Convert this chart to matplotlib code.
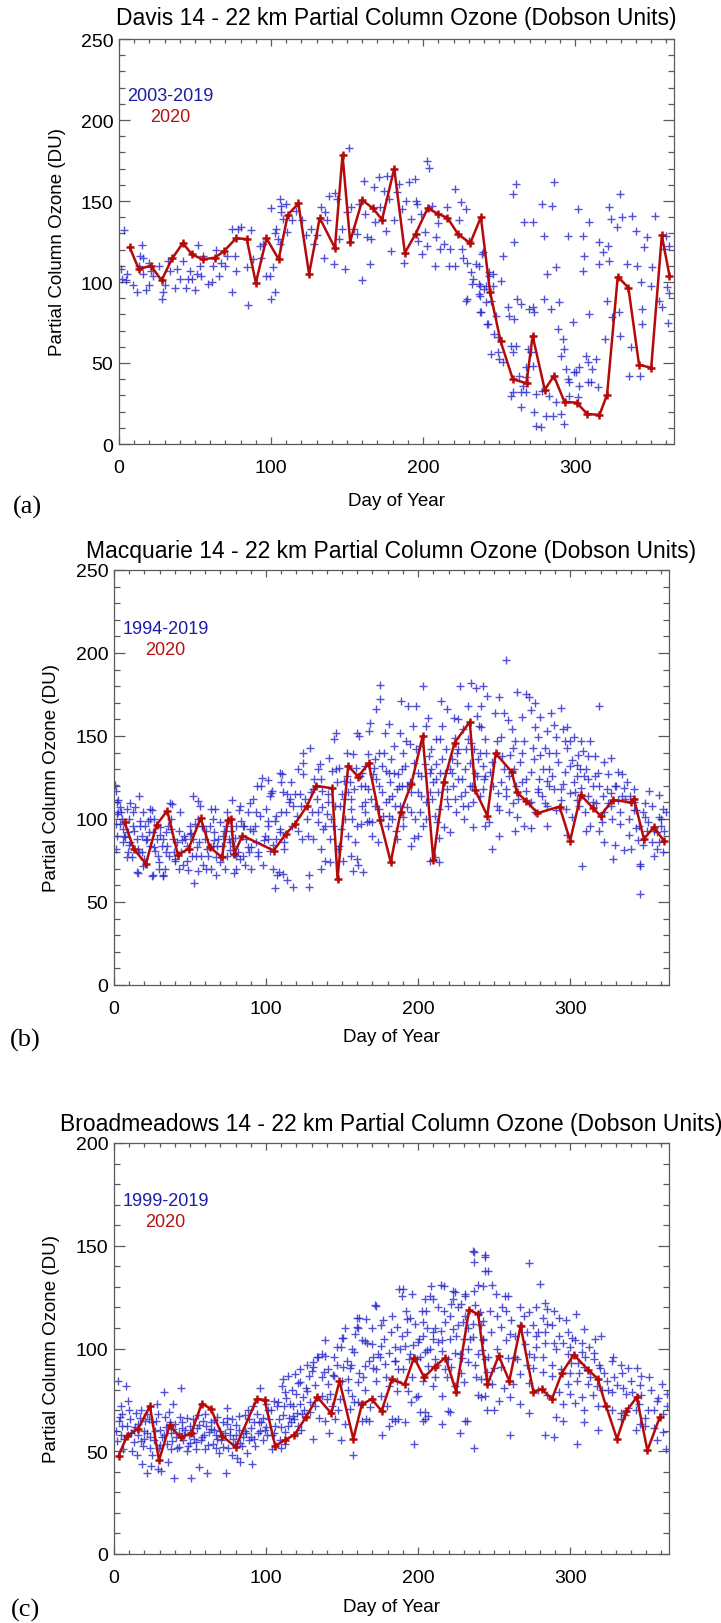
"""
14 - 22 km partial column ozone at Davis, Macquarie and Broadmeadows.
Historical ozonesonde values (blue crosses) against the 2020 season (red).
"""
import matplotlib
matplotlib.use("Agg")
import matplotlib.pyplot as plt
from matplotlib.ticker import MultipleLocator

# ---------------------------------------------------------------------------
# Data
# ---------------------------------------------------------------------------
davis_2020_day = [7, 13, 21, 28, 35, 42, 48, 55, 63, 69, 77, 84, 90, 97, 105, 111, 118, 125,
                  132, 142, 147, 152, 160, 167, 173, 181, 188, 195, 203, 210, 216, 223, 231,
                  238, 244, 251, 259, 268, 272, 280, 286, 293, 301, 308, 316, 321, 328, 335,
                  342, 350, 357, 362]
davis_2020_du = [121.5, 108, 110, 101, 114.6, 124, 117, 114, 115, 119, 127, 126.5, 99.5, 127,
                 114, 141.4, 148.5, 105, 139.5, 121, 178.5, 125, 150.5, 145.5, 138.5, 170, 118,
                 129.6, 145.5, 142, 139.6, 129.5, 124, 140, 94, 63.3, 40, 37.5, 66.8, 33.5, 42,
                 26, 25.5, 18.5, 18, 30.5, 103.3, 96.5, 49, 47, 128.8, 104]

davis_hist = [
    (1, 108), (3, 132), (2, 102), (5, 105), (4.6, 101), (9, 98), (12, 94), (15, 123), (14, 116),
    (16, 115), (13, 110), (15.5, 105), (18, 95), (20, 98), (20, 112), (22.5, 104), (21, 107),
    (26.5, 110), (28, 89.5), (29, 93.6), (30, 98), (32, 113), (33.5, 107), (37, 96), (38, 108),
    (40, 102), (42, 113), (44, 96), (45.5, 102), (46.6, 107), (47.7, 102), (50, 95), (51, 105),
    (53, 110), (52, 123), (54, 104), (55, 116), (58.6, 99), (61, 100), (62, 110), (64, 120),
    (66, 104), (67, 112), (69.6, 110), (70.7, 116), (74, 133), (74, 94), (76, 116), (77, 107),
    (78, 133), (80.5, 134), (84, 109), (85, 86), (87, 132), (88, 114), (92.6, 122), (93.6, 115),
    (94.7, 123.5), (97, 104), (99, 104), (100, 89.5), (102.4, 93.6), (101.3, 109), (102.4, 130),
    (103.5, 133), (104.6, 126.5), (105.7, 151), (106.8, 147), (106.8, 143), (100.2, 145.5),
    (106, 123.5), (108, 139),
    (109.6, 148), (110.7, 131), (113.5, 138.5), (116.2, 144), (120.6, 138), (122.8, 129),
    (126, 132.7), (128, 123.5), (130.2, 129), (132.6, 146), (134.8, 115), (135.5, 143), (137, 138),
    (138, 153), (141.4, 111), (141.9, 155), (143.5, 151), (144.6, 126.5), (146.8, 132.7),
    (148.6, 108), (150, 143), (151, 183), (152.3, 146), (154.5, 132.7), (156.7, 129.6), (158, 148),
    (159.5, 101.4), (161, 162.5), (162, 142), (163.3, 127.6), (165.4, 111), (166, 126.5),
    (167.6, 158.4), (168.6, 136.8), (170.7, 164.6), (171.9, 146), (174, 156.4), (175.3, 131.7),
    (176.4, 165.6), (177.5, 151.2), (179.2, 119.3), (180.8, 138), (183, 155.3), (184, 160.5),
    (185.8, 145), (187.3, 112), (188.9, 150.2), (191, 161.5), (191.8, 139), (194.5, 163.5),
    (195, 150.2), (196, 148), (196.7, 125.5), (198.3, 142), (199.4, 117.3), (201, 130.7),
    (202.6, 175), (203.7, 170.2), (202.6, 122.4), (206, 147), (207.7, 110), (208.6, 127.6),
    (210, 136.4), (211.4, 120.4), (213.6, 123.5), (215.9, 146), (217, 110), (218, 120.4),
    (220.9, 157.4), (221.3, 110), (223.5, 138), (224.6, 149.2), (225.3, 120.4), (226, 114.6),
    (227.9, 145), (229, 112), (230, 125.5), (231.8, 106), (232.2, 98.8), (232.9, 102),
    (234.5, 111), (229, 89.5), (227.9, 88.5), (236.5, 110), (237.7, 97.7), (237.2, 91.6),
    (237.7, 81.3), (238.8, 117.3), (239.9, 95.7), (242, 74), (243.2, 104), (244.9, 55.6),
    (237, 92.6), (238.1, 81.3), (239.2, 118.3), (241.4, 97.7), (243.6, 106), (245.7, 105),
    (242.4, 74), (246.8, 67.9), (249, 56.6), (250, 52.5), (251.2, 100.8), (252.3, 116.3),
    (252.3, 50.4), (255.6, 84.4), (256.7, 79.2), (257.8, 60.7), (258.9, 56.6), (260, 77.2),
    (259.5, 124.5), (261, 160.5), (259.4, 154.3), (262, 89.5), (264.4, 86.4), (265.4, 36),
    (264.4, 22.6), (266.5, 136.8), (267.6, 41.2), (268.7, 58.6), (269.8, 83.3), (272, 84.4),
    (272, 136.8), (273, 81.3), (272, 48.4), (273, 19.5), (274.2, 11.3), (277.5, 10.3),
    (278.5, 148), (279.6, 128.6), (279.6, 89.5), (280.7, 17.5), (281.8, 105), (284, 83.3),
    (284.7, 146.7), (285.2, 17.5), (286.3, 161.5), (287.4, 109), (288.5, 71), (289.6, 87.4),
    (290.6, 54.5), (291.7, 64.8), (292.8, 58.6), (292.8, 12.3), (293.9, 46.3), (295, 40.1),
    (295, 128.6), (296.1, 29.8), (298.3, 75.1), (299.4, 44.2), (301.6, 145), (302.7, 36),
    (305, 128.6), (306, 116.3), (305, 107), (307.2, 54.5), (308.3, 50.4), (309, 136.8),
    (309.4, 80.2), (310.5, 38), (311.4, 46.3), (313.7, 52.5), (314.8, 35), (315.9, 124.5),
    (315.9, 111), (318, 118.3), (319.3, 64.8), (321.5, 122.4), (320.8, 88.5), (322.3, 146),
    (322.3, 113.2), (323.4, 138.9), (324.5, 78.2), (327.8, 133.7), (329, 81.3), (329.4, 66.9),
    (329.6, 154.3), (330.9, 139.9), (334.2, 111), (335.3, 42.2), (336.4, 59.7), (337.5, 141),
    (339.7, 131.7), (340.8, 110), (342.4, 42.2), (343, 99.8), (343.8, 83.3), (344.2, 74),
    (345.3, 121.4), (347.5, 127.6), (349.8, 97.7), (350.4, 109), (352.4, 141), (355.2, 88.5),
    (357.4, 84.4), (358.5, 120.4), (359.6, 128.6), (360.7, 96.7),
    (287.4, 25.7), (290.6, 18.5), (296.1, 38), (300.5, 44.2), (302.2, 47.3), (308.3, 38),
    (301.6, 28.8), (283, 29.8), (278.5, 32.9), (274.2, 30.9), (267.6, 31.9), (264.4, 31.9),
    (258.9, 31.9), (257.8, 29.8), (263.3, 42.2), (267.6, 47.3), (271, 56.6), (261, 60.7),
    (249, 65.8), (247.9, 79.2), (244.6, 88.5), (246.1, 97.7), (241.4, 87.4), (237, 98.8),
    (362, 122), (362, 93), (361, 75),
]

macq_2020_day = [7, 13, 21, 28, 35, 42, 49, 57, 63, 71, 75, 77, 79, 84.5, 105, 113, 119, 127,
                 133, 143.5, 147, 154, 160.5, 167.5, 175, 182, 188.5, 195.5, 203, 210, 217, 224,
                 234, 237.5, 245.5, 251, 261.5, 265, 271, 278.5, 293, 300, 307, 315, 320, 328,
                 340, 342, 348.5, 355, 362]
macq_2020_du = [98, 82, 73, 96.5, 105, 78.5, 82, 100.5, 83, 77, 99.5, 100, 79, 90, 81, 91, 97,
                108, 120, 118.5, 64, 132, 125.5, 133.5, 99.5, 74, 104, 121, 150, 75.5, 122.5,
                146, 158.5, 117.5, 102, 139.5, 128.5, 116, 111, 103.5, 107.5, 87, 114.5, 106.5,
                102, 111.5, 110, 112, 88, 95, 86.5]

macq_hist = [
    (0.7, 120.5), (1.3, 117), (1.8, 110), (2.2, 103), (1.3, 97), (1.8, 90), (1.3, 82), (3.9, 107),
    (5, 100), (6.1, 94), (8.3, 106), (7.2, 89), (9.4, 92), (10.5, 86), (11.6, 77), (10, 100),
    (12.7, 96), (14, 107), (16.2, 114), (15.3, 68), (17, 99), (18.2, 90), (18.2, 80), (19.3, 104),
    (20.4, 96), (21.4, 88), (22.5, 99), (23.6, 84), (24, 106), (25.4, 92), (25.8, 66), (26.9, 81),
    (28, 88), (29.1, 78), (30.2, 95), (31.3, 84), (32, 66), (33.5, 70), (34.1, 92), (35, 84),
    (36.3, 78), (37.2, 100), (37.9, 109), (39, 88), (40, 75), (41.6, 86), (42.9, 93), (43.8, 80),
    (45.5, 72), (46.6, 88), (47.7, 84), (48.8, 69), (49.9, 91), (51, 78), (52, 88), (53.2, 97),
    (55.4, 100), (55.4, 111), (56.5, 108), (55.9, 86), (57.5, 78), (58.6, 72), (59.7, 88),
    (60.4, 93), (61.3, 82), (63, 96), (64.1, 70), (64.8, 84), (65.6, 92), (66.3, 106), (67.4, 77),
    (68.5, 88), (69.6, 98), (70.7, 84), (71.8, 90), (72.9, 70), (74, 104), (74.4, 78), (75.7, 88),
    (77.2, 93), (78.8, 84), (80.1, 70), (80.5, 96), (81.6, 80), (82.7, 108), (83.8, 99),
    (84.9, 78), (86, 72), (87.1, 88), (88.2, 104), (89.3, 94), (90.4, 83), (91.5, 112),
    (92.6, 96), (93.7, 86), (94.7, 80), (95.8, 102), (96.9, 120), (97.6, 125), (99.1, 90),
    (100.2, 106), (101.3, 96), (102.4, 81), (102.8, 114), (104.2, 117), (104.6, 70), (105.7, 99),
    (106.8, 88), (109, 128), (108.5, 68), (110, 104), (111.2, 67), (111.6, 82),
    (52.9, 61.3), (24.9, 65.5), (32.4, 65.5), (15.9, 67.2), (118, 59.2), (106, 58.2),
    (107.5, 66.5), (113.5, 63.4), (128, 59.2), (128.5, 66.5),
    (2.4, 111.5), (4.5, 104.2), (6.3, 89.5), (9.9, 84.3), (12.9, 92.7), (15.9, 82.2),
    (17.4, 95.8), (21.3, 87.4), (23.4, 100), (26.4, 83.3), (30.3, 90.6), (33.9, 80.1),
    (37.5, 93.7), (39.9, 75.9), (44.4, 87.4), (48.3, 74.9), (50.5, 91.6), (54.4, 83.3),
    (58, 95.8), (61.6, 78), (65.5, 87.4), (69.4, 73.8), (72.4, 92.7), (76, 81.2), (79.6, 88.5),
    (82.6, 75.9), (85, 95.8), (88, 83.3), (91.6, 92.7), (94.6, 78), (98.5, 87.4), (101.5, 99),
    (104.5, 84.3), (109, 93.7), (112, 86.4), (8.4, 77), (18.9, 71.8), (29.4, 73.8), (42.9, 69.7),
    (55, 68.6), (67, 66.5), (79, 67.6), (90.4, 69.7), (3.9, 96.9), (10.8, 109.4), (24.9, 105.2),
    (36.9, 109.4), (52, 113.6), (64, 106.3), (77.5, 111.5), (89.5, 109.4), (103, 115.7),
    (115, 110.5), (109.6, 122), (101.5, 123.6), (94, 119.9), (82, 105.2),
    (2.8, 104), (5.7, 86), (9, 80), (12.3, 104), (14.9, 88), (16.6, 80), (19.7, 76), (23.2, 92),
    (26.3, 100), (29.8, 70), (32.4, 88), (35.7, 96), (39.4, 80), (43.3, 104), (46, 90),
    (50.3, 96), (53.8, 78), (58.2, 96), (60.8, 70), (64.8, 100), (67.8, 84), (73.5, 96),
    (76.6, 86), (80.5, 78), (85.3, 96), (88.8, 80), (93.2, 104), (98, 72), (101.5, 88),
    (106.3, 102), (109.4, 92),
    (110.3, 127), (111.4, 116), (113.6, 115), (115.8, 112), (117, 96), (118, 108), (119.1, 115),
    (120.1, 102), (121.2, 93), (122.3, 115), (123.4, 88), (124.5, 140), (124.5, 134),
    (124.5, 127), (125.6, 112), (126.7, 100), (127.8, 90), (128.9, 143), (130, 104), (131, 88),
    (131.7, 124), (133.2, 112), (134.4, 98), (135.4, 133), (136.1, 82), (136.6, 107),
    (137.6, 94), (138.7, 75), (139.8, 103), (140.9, 115), (142, 88), (143.1, 129), (144.2, 96),
    (144.9, 148), (145.7, 152), (146.4, 122), (147.5, 82), (148.6, 108), (149.7, 115),
    (150.8, 75), (151.9, 100), (153, 140), (154, 90), (155.1, 122), (156.2, 100), (157.3, 139),
    (158.4, 86), (159.5, 152), (160.2, 72), (161, 150), (161.7, 126), (162.8, 108), (163.9, 68),
    (165, 120), (166.1, 98), (166.8, 139), (167.6, 153), (168.3, 158), (168.9, 112), (169.4, 90),
    (170.4, 127), (171.6, 108), (172.6, 166), (173.7, 86), (174.4, 140), (175, 172), (175.1, 180.5),
    (176, 116), (177, 102), (178.1, 152), (179.2, 129), (180.3, 96), (180.7, 157), (181.4, 122),
    (182, 136), (183, 114), (184.2, 144), (184.7, 108), (185.8, 88), (186.9, 127), (188, 152),
    (188.6, 171), (189.5, 120), (190.2, 96), (191.3, 132), (192.4, 107), (193.4, 168),
    (194.5, 145), (195.2, 116), (195.6, 84), (196.7, 156), (197.8, 100), (198.9, 168),
    (199.6, 128), (200, 90), (201.1, 144), (202.2, 114), (203.3, 180), (203.3, 96), (204.4, 133),
    (205.4, 110), (206.5, 161), (207.6, 128), (208.7, 142), (209.8, 122), (210.9, 102),
    (211.4, 77), (212, 133), (213.1, 116), (214.2, 148), (215.3, 171), (216, 156), (216.9, 95),
    (217.5, 128), (218.6, 142), (219.3, 166), (219.7, 108), (220.9, 92), (222, 136), (223, 120),
    (223.7, 161), (224.2, 149), (225.2, 104), (225.9, 134), (226.3, 124), (227.4, 180),
    (228.4, 114), (229.5, 154), (230.2, 100), (231, 130), (231.7, 142), (232.8, 108),
    (233.9, 120), (234.6, 182), (235, 146), (236.1, 95), (237.2, 128), (238.3, 179),
    (239.4, 136), (239.9, 156), (240.5, 114), (241.6, 168), (242.7, 180), (243.4, 124),
    (244.3, 96), (244.9, 140),
    (112.9, 104), (116.4, 122), (120.8, 130), (123, 108), (129.6, 116), (133.9, 130), (137, 117),
    (141.4, 137), (145.3, 108), (148, 131), (151.4, 123), (155.9, 112), (159, 131), (162.6, 120),
    (165.4, 104), (170.8, 131), (174.3, 120), (177.3, 140), (180.9, 112), (184.4, 128),
    (187.4, 120), (191.8, 147), (194.9, 122), (198.5, 142), (201.4, 104), (204.9, 156),
    (208, 116), (211.5, 148), (214.6, 128), (219, 112), (222.5, 128), (225.8, 140), (229.4, 108),
    (232.5, 148), (235.6, 120), (239, 162), (242.6, 132), (244.3, 148), (164.9, 132), (154, 116),
    (171.6, 136), (189.5, 130), (208.3, 130), (226.3, 160), (232.8, 168), (236.8, 142),
    (131, 118), (134, 104), (136, 124), (139, 96), (141, 110), (143, 100), (146, 130), (149, 94),
    (151, 112), (153, 126), (156, 106), (158, 118), (160, 96), (163, 128), (165, 110), (167, 118),
    (170, 98), (172, 124), (174, 106), (176, 132), (179, 110), (181, 128), (183, 100), (186, 118),
    (188, 108), (190, 140), (193, 120), (195, 104), (197, 134), (200, 116), (202, 126), (205, 100),
    (207, 138), (209, 112), (212, 124), (214, 106), (216, 136), (219, 118), (221, 130), (224, 112),
    (226, 142), (229, 124), (231, 116), (234, 134), (236, 110), (239, 126), (241, 140), (243, 118),
    (148, 84), (157, 68.6), (160, 76), (142, 73.8), (136, 69.7), (155.6, 78), (162.5, 96.9),
    (167.6, 99), (181, 102), (190, 101), (185.6, 92.7), (197.6, 88.5), (212.6, 97.9),
    (214, 88.5), (214, 73.8), (207.5, 74.9),
    (245.6, 174.3), (250.8, 163.8), (253.2, 173.2), (257.7, 195.6), (254.7, 149.2),
    (256.2, 163.8), (259.2, 159.6), (261.6, 154.4), (263.7, 147), (265.2, 176.4), (268.2, 161.7),
    (271.2, 175.3), (272.7, 173.2), (274.2, 165.9), (276.6, 170.1), (278.7, 149.2),
    (280.2, 138.7), (283.2, 142.9), (286.2, 130.3), (289.2, 156.5), (290.7, 149.2),
    (293.7, 166.9), (295.2, 154.4), (298.2, 155.4), (299.7, 147), (301.2, 135.6), (304.2, 132.4),
    (307.2, 147), (308.7, 140.8), (311.7, 137.7), (313.2, 147), (316.2, 126.2), (319.2, 168),
    (322.2, 134.5), (325.2, 127.2), (326.7, 136.6), (329.7, 119.9), (331.2, 128.2),
    (334.2, 127.2), (335.7, 118.8), (337.2, 122), (339.6, 113.6), (341.7, 110.5), (343.2, 105.2),
    (344.7, 87.4), (346.2, 72.8), (346.2, 55), (349.2, 101), (351.6, 116.7), (353.7, 86.4),
    (355.3, 92.7), (356.8, 82.2), (358.3, 114.6), (359.8, 100), (361.3, 106.3), (361.9, 92.7),
    (328.2, 75.9), (335.7, 81.2), (307.8, 71.8), (319.2, 92.7), (313.2, 95.8), (327.3, 100),
    (322.2, 104.2), (317.1, 109.4), (309.9, 104.2), (304.2, 111.5), (299.7, 115.7),
    (293.7, 111.5), (289.2, 117.8), (284.7, 123), (281.7, 113.6), (277.2, 104.2), (272.7, 109.4),
    (269.7, 95.8), (265.2, 101), (262.2, 109.4), (257.7, 113.6), (256.2, 130.3), (253.2, 89.5),
    (248.6, 82.2), (246.5, 97.9), (252.6, 115.7), (244.1, 126.2), (241.1, 155.4), (248.6, 134.5),
    (259.8, 126.2), (266.7, 134.5), (274.2, 128.2), (279.6, 124.1), (283.2, 109.4),
    (290.7, 105.2), (296.7, 128.2), (302.7, 122), (307.2, 118.8), (310.2, 130.3), (314.7, 119.9),
    (321.6, 113.6), (325.2, 109.4), (331.2, 111.5), (332.7, 96.9), (338.7, 90.6), (343.2, 94.8),
    (347.7, 84.3), (350.8, 92.7), (358.3, 86.4), (355.3, 78), (361.3, 80.1), (251.7, 147),
    (262.2, 142.9), (268.2, 122), (275.7, 142.9), (286.2, 139.8), (292.2, 134.5), (298.2, 142.9),
    (302.7, 149.2), (306.6, 130.3), (280.2, 161.7), (284.7, 153.3),
    (247.1, 128.2), (254.7, 122), (264.6, 119.9), (271.2, 116.7), (278.7, 117.8), (286.2, 119.9),
    (295.2, 120.9), (304.2, 126.2), (311.7, 124.1), (319.2, 119.9), (326.7, 115.7),
    (334.2, 113.6), (341.7, 105.2), (349.2, 109.4), (358.3, 101), (260.7, 138.7), (269.7, 147),
    (277.2, 155.4), (287.4, 163.8), (296.7, 147), (305.4, 138.7), (316.2, 137.7), (253.2, 105.2),
    (263.7, 92.7), (274.2, 94.8), (284.7, 95.8), (301.2, 101), (310.2, 92.7), (322.2, 86.4),
    (329.7, 84.3), (340.2, 82.2), (346.2, 71.8), (298.2, 90.6),
    (249, 120), (252, 108), (255, 138), (258, 118), (260, 104), (263, 130), (266, 112), (268, 140),
    (271, 124), (274, 110), (276, 136), (279, 116), (282, 130), (285, 108), (288, 126), (291, 140),
    (294, 118), (297, 106), (300, 132), (303, 116), (306, 108), (309, 126), (312, 114), (315, 110),
    (318, 128), (321, 98), (324, 118), (327, 108), (330, 120), (333, 104), (336, 112), (339, 100),
    (342, 118), (345, 96), (348, 104), (351, 98), (354, 108), (357, 92), (360, 96), (363, 104),
]

broad_2020_day = [3, 8.5, 16, 23.6, 29.6, 36.6, 43.8, 50.8, 57.7, 63.7, 71.3, 80, 94, 99, 106,
                  112.7, 118.7, 126.3, 133.8, 142.9, 148.3, 157.4, 163, 169.5, 176, 182.8, 191.2,
                  197.3, 204, 211, 218, 225, 233.5, 239.5, 245.6, 253, 260, 267.4, 275.8, 281.3,
                  288, 294.6, 302.4, 312, 318, 323.6, 330.8, 337, 343.8, 350.8, 359]
broad_2020_du = [47.7, 57.4, 61, 72, 45.6, 62.6, 56.7, 58.8, 73.2, 70.7, 57.4, 52, 75.4, 75,
                 52.6, 55.6, 58, 66.7, 76.3, 68.4, 84.2, 56, 72.8, 75.4, 69.6, 85, 82.5, 95.6, 86,
                 91.2, 95.6, 79, 118.8, 116.7, 82.5, 96.5, 84.2, 111, 79, 80.2, 75.4, 88.2, 97,
                 89.5, 85.4, 72, 56, 69.6, 76.3, 50.4, 66.7]

broad_hist = [
    (2.4, 84.2), (3.9, 66.7), (4.5, 71.9), (5.4, 62.3), (6.9, 56.1), (7.6, 81.6), (9.4, 74.6),
    (10.6, 65.8), (11.5, 58.8), (13, 54.4), (14.5, 68.4), (15.4, 48.2), (16, 63.2), (17.5, 70.2),
    (18.4, 43.9), (19.6, 56.1), (20.5, 64.9), (22, 39.5), (23.6, 51.8), (24.5, 43), (25.1, 64),
    (26.6, 55.3), (28.1, 72.8), (28.7, 41.2), (30.5, 60.5), (31.1, 40.4), (32.6, 78.9),
    (33.5, 66.7), (34.7, 53.5), (35.6, 44.7), (37.2, 58.8), (38.7, 72.8), (39.6, 36.8),
    (40.2, 63.2), (41.7, 51.8), (43.2, 66.7), (44.1, 80.7), (45.6, 55.3), (46.8, 60.5),
    (47.7, 50), (49.2, 57.9), (50.8, 36.8), (51.7, 65.8), (52.9, 56.1), (54.7, 61.4),
    (55.9, 42.1), (57.1, 55.3), (58.3, 64.9), (59.8, 50.9), (61.3, 39.5), (62.2, 59.6),
    (63.7, 64), (65, 53.5), (66.8, 57.9), (68, 66.7), (69.2, 49.1), (70.4, 55.3), (71.9, 64),
    (73.4, 39.5), (74, 71.1), (75.2, 51.8), (76.4, 57.9), (77.9, 65.8), (79.5, 53.5), (81, 46.5),
    (81.9, 60.5), (83.1, 44.7), (84.9, 57), (86.1, 67.5), (87.3, 49.1), (88.5, 55.3), (90, 61.4),
    (90.9, 43.9), (91.5, 71.9), (93, 52.6), (94.6, 58.8), (96.1, 80.7), (97, 64), (98.2, 55.3),
    (100, 72.8), (100.6, 57.9), (102.1, 65.8), (103.6, 50.9), (105.1, 74.6), (106, 62.3),
    (107.3, 71.9), (109, 55.3), (110.3, 81.6), (111.2, 67.5), (112.7, 59.6), (114.2, 86.8),
    (115.7, 72.8), (117.2, 79.8), (118.7, 65.8), (121.1, 83.3), (122.4, 72.8), (123.3, 60.5),
    (3.3, 64.9), (4.5, 57.9), (8.5, 62.3), (13, 60.5), (16, 57.9), (19, 52.6), (21.5, 58.8),
    (22.7, 65.8), (27.5, 64.9), (29.6, 51.8), (31.7, 57), (36.6, 64), (37.8, 50.9), (42.6, 58.8),
    (44.7, 61.4), (48.6, 52.6), (49.8, 62.3), (53.8, 54.4), (55.3, 67.5), (59.5, 57.9),
    (60.7, 62.3), (65.9, 60.5), (67.4, 51.8), (72.8, 58.8), (74.6, 63.2), (77.3, 48.2),
    (80.1, 57.9), (84, 52.6), (87, 58.8), (89.1, 65.8), (92.1, 56.1), (95.2, 64), (99.1, 60.5),
    (101.2, 70.2), (104.2, 57.9), (108.2, 65.8), (112.1, 71.9), (116.3, 64), (120.2, 68.4),
    (1, 60), (2, 55), (5, 68), (6, 51), (9, 58), (10, 70), (12, 50), (14, 62), (17, 66), (18, 55),
    (20, 60), (22, 68), (24, 57), (25, 48), (27, 60), (29, 68), (30, 53), (33, 58), (34, 62),
    (36, 69), (38, 55), (39, 61), (41, 57), (43, 52), (45, 64), (46, 58), (48, 66), (50, 54),
    (52, 59), (54, 51), (56, 63), (58, 57), (60, 68), (62, 53), (64, 61), (66, 65), (68, 56),
    (70, 60), (72, 52), (74, 66), (76, 61), (78, 56), (80, 63), (82, 67), (83, 54), (86, 60),
    (88, 70), (90, 57), (92, 64), (94, 68), (96, 60), (98, 66), (100, 62), (103, 70), (105, 59),
    (108, 74), (110, 62), (113, 76), (115, 66), (118, 72), (120, 78),
    (124.2, 76.3), (126.3, 80.7), (128.4, 86.8), (130.8, 91.2), (133.2, 96), (136.9, 97.4),
    (138.4, 88.6), (140.5, 82.5), (144.4, 86.8), (146.8, 92.1), (149, 100.9), (150.5, 105.3),
    (153.5, 93.9), (155, 90.4), (158, 98.2), (159.5, 110.5), (161, 114.9), (164, 86),
    (166.5, 102.6), (170.1, 90.4), (171.6, 121.1), (173.7, 97.4), (177.6, 104.4), (180.7, 81.6),
    (182.2, 107.9), (184.6, 93.9), (187.6, 129), (189.7, 106.1), (191.8, 118.4), (194.3, 94.7),
    (195.8, 126.3), (198.8, 76.3), (200.9, 104.4), (202.7, 118.4), (205.7, 99.1), (207.9, 125.4),
    (210, 107.9), (212.4, 92.1), (214.8, 130.7), (216.9, 118.4), (219, 86), (220.8, 104.4),
    (223, 128.1), (226, 111.4), (229, 95.6), (231.1, 126.3), (234.1, 104.4), (235.9, 147.4),
    (237.2, 92.1), (239.6, 130.7), (242, 99.1), (244.1, 145.6), (245, 85.1), (246.2, 137.7),
    (237, 147), (237, 142), (243.8, 144.4), (244.2, 137.9), (190.2, 129), (189.1, 125.7),
    (208.7, 130.2), (217, 130.2), (224, 127.7), (230.6, 125.4), (236.8, 128.1), (242.7, 130.2),
    (223, 124), (221.9, 121.7), (228.4, 121.7), (237.2, 121.2), (204.4, 124), (209.9, 124),
    (172.2, 120.5), (159.5, 114.8), (166, 114.4), (160.2, 109.8), (158.4, 107), (175.9, 111.4),
    (185.8, 110.3), (192.4, 114.4), (194.6, 114.7), (205.4, 118.4), (203.3, 113.1),
    (210.9, 109.8), (217.5, 112.7), (214.9, 108.7), (223, 109.5), (229.5, 113.1), (232.8, 109.8),
    (241.6, 111.4), (242.7, 104.6), (236.1, 105.4), (230.2, 104.6), (225.2, 106.2), (213, 103),
    (209.9, 104.6), (203.3, 106.2), (200, 103), (196.7, 101.7), (191.2, 101.4), (184.7, 100.6),
    (175.9, 101.4), (169.4, 102.2), (165, 103.8), (156.2, 99.8), (149.7, 105), (146.4, 100.6),
    (138.8, 96.5), (134.4, 95.7), (131.1, 93.3), (119.1, 87.6), (112.5, 78.7), (111.4, 85.2),
    (122.3, 83.5), (126.7, 79.5), (130, 89.2), (141, 90), (144.3, 87.1), (150.8, 90.8),
    (154.1, 85.2), (160.7, 83.5), (165, 91.6), (170.5, 95.7), (172.6, 90), (178.1, 92.5),
    (184.7, 94.1), (186.9, 90), (194.6, 97.3), (199, 94.9), (204.4, 98.1), (206.6, 91.6),
    (211, 94.9), (215.4, 98.9), (219.7, 94.9), (221.9, 90.8), (227.4, 97.3), (232.8, 93.3),
    (239.4, 97.3), (244.2, 94.9), (209.9, 81.9), (215.4, 77), (219.7, 69.7), (224, 81.9),
    (230.2, 83.5), (243.8, 77), (241.6, 85.2), (200, 77), (204.4, 68.9), (203.3, 64.9),
    (206.6, 67.3), (193.4, 79.5), (195.6, 73.8), (185.8, 79.5), (186.9, 65.7), (184.7, 64.9),
    (179.8, 72.2), (175.9, 77), (168.3, 71.4), (166, 65.7), (160.7, 73.8), (156.2, 77),
    (155.1, 70.6), (148.6, 75.4), (143.1, 72.2), (139.8, 75.4), (136.6, 77), (132.2, 72.2),
    (128.9, 68.9), (123.4, 68.1), (117.9, 67.3), (114.6, 62.4), (121.2, 62.4), (138.7, 64.9),
    (145.3, 65.7), (151.9, 63.3), (162.8, 64.9), (167.6, 64.9), (182.5, 65.7), (201.1, 69.3),
    (220.9, 68.9), (230.6, 64.9),
    (122, 90), (125, 70), (127, 92), (129, 74), (132, 82), (135, 66), (137, 86), (139, 104),
    (142, 78), (145, 96), (147, 70), (150, 84), (152, 110), (154, 80), (156, 92), (158, 74),
    (161, 88), (163, 104), (165, 80), (168, 94), (170, 110), (172, 84), (175, 96), (177, 114),
    (179, 86), (181, 98), (183, 116), (186, 84), (188, 100), (190, 90), (193, 108), (196, 86),
    (198, 112), (201, 96), (203, 84), (206, 110), (208, 100), (211, 86), (213, 120), (216, 104),
    (218, 90), (221, 116), (224, 98), (226, 120), (228, 88), (231, 116), (233, 100), (236, 112),
    (238, 86), (241, 118), (243, 104), (246, 96), (248, 108),
    (157.4, 48.2), (197.3, 53.5), (236.6, 51.8), (232, 64.9), (227.5, 58.8), (215.4, 63.2),
    (204.8, 65.8), (191.2, 64), (180.7, 62.3), (176.1, 57.9), (149, 55.3), (141.4, 58.8),
    (130.8, 56.1), (120.2, 58.8), (112.7, 53.5), (109.7, 51.8),
    (272.8, 141.6), (280.4, 131.6), (283.4, 121.9), (284.9, 119.3), (303.7, 116.7),
    (277.3, 120.2), (269.8, 115.8), (266.8, 111.4), (260.7, 107), (257.7, 118.4), (257.1, 125.4),
    (259.2, 125.4), (248.6, 130.7), (251, 126.3), (247.1, 118.4), (251.7, 115.8), (242.6, 113.2),
    (254.7, 110.5), (263.7, 106.1), (271.3, 107.9), (277.3, 106.1), (287.9, 111.4),
    (292.4, 114.9), (298.5, 107.9), (283.4, 102.6), (289.4, 102.6), (295.5, 102.6), (300, 100.9),
    (307.6, 98.2), (312.1, 100.9), (316.6, 104.4), (320.2, 106.1), (309, 109.6), (300.3, 93),
    (304.9, 93), (309.4, 91.2), (315.4, 94.7), (319.9, 90.4), (327.4, 93.9), (333.2, 92.1),
    (337.8, 90.4), (343.8, 90.4), (346.8, 86.8), (328.8, 86), (323.9, 84.2), (317.9, 81.6),
    (311.8, 82.5), (304.3, 84.2), (298.5, 82.5), (288, 86.8), (281.9, 88.6), (275.8, 90.4),
    (271.3, 92.1), (265.3, 94.7), (259.2, 95.6), (254.7, 91.2), (250.2, 90.4), (245.6, 88.6),
    (248.6, 82.5), (256.2, 80.7), (262.2, 82.5), (266.8, 87.7), (272.8, 83.3), (278.8, 79.8),
    (284.9, 77.2), (292.4, 78.9), (300, 78), (307.6, 76.3), (315.1, 77.2), (321.1, 79.8),
    (327.4, 78.9), (334.7, 80.7), (340.8, 78.9), (346.8, 77.2), (352.9, 79.8), (360.3, 82.5),
    (363.4, 78), (357.4, 74.6), (351.3, 70.2), (345.3, 72.8), (337.8, 71.1), (333.2, 68.4),
    (327.4, 70.2), (318.1, 71.9), (309, 70.2), (303, 73.7), (295.5, 72.8), (290.9, 66.7),
    (295.5, 64.9), (289.4, 57), (283.4, 57.9), (309, 64), (318.1, 60.5), (333.2, 65.8),
    (343.2, 60.5), (349.2, 62.3), (355.2, 61.4), (361.3, 59.6), (362.8, 50.9), (356.8, 55.3),
    (346.2, 63.2), (336.3, 67.5), (272.8, 68.4), (266.8, 72.8), (260.7, 76.3), (253.2, 74.6),
    (245.6, 70.2), (250.2, 70.2), (239.6, 77.2), (241.1, 76.3), (260.7, 57.9), (272.8, 97.4),
    (277.3, 100.9), (304.5, 53.5), (283.4, 107.9), (292.4, 106.1), (301.5, 105.3),
    (307.6, 102.6), (275.8, 111.4), (281.9, 114.9), (289.4, 118.4), (298.5, 97.4),
    (252, 100), (255, 120), (258, 104), (261, 114), (264, 96), (267, 120), (270, 102), (273, 118),
    (276, 96), (279, 108), (282, 96), (285, 112), (288, 92), (291, 100), (294, 90), (297, 114),
    (300, 88), (303, 104), (306, 88), (310, 96), (313, 86), (316, 98), (319, 92), (322, 88),
    (325, 80), (328, 96), (331, 82), (334, 88), (337, 78), (340, 84), (343, 70), (346, 82),
    (349, 66), (352, 86), (355, 70), (358, 76), (361, 68), (364, 72),
]

# ---------------------------------------------------------------------------
# Layout (pixel boxes of the original figure: left, top, right, bottom)
# ---------------------------------------------------------------------------
W, H = 721, 1624
BLUE = "#2626cc"
RED = "#b40a0a"
FRAME = "#5a5a5a"
SANS = ["Liberation Sans", "DejaVu Sans"]
SERIF = ["Liberation Serif", "DejaVu Serif"]

PANELS = [
    dict(station="Davis", years="2003-2019", hist=davis_hist, day=davis_2020_day,
         du=davis_2020_du, box=(119, 40, 674, 445), ymax=250, leg_y=(215, 202),
         title_y=18, ylab_x=57, xlab_y=502, tag="(a)", tag_xy=(27, 507)),
    dict(station="Macquarie", years="1994-2019", hist=macq_hist, day=macq_2020_day,
         du=macq_2020_du, box=(114, 571, 669, 986), ymax=250, leg_y=(214.5, 202),
         title_y=552, ylab_x=52, xlab_y=1038, tag="(b)", tag_xy=(25, 1040)),
    dict(station="Broadmeadows", years="1999-2019", hist=broad_hist, day=broad_2020_day,
         du=broad_2020_du, box=(114, 1144, 669, 1555), ymax=200, leg_y=(172, 162),
         title_y=1125, ylab_x=52, xlab_y=1608, tag="(c)", tag_xy=(25, 1610)),
]


def fx(x):
    return x / W


def fy(y):
    return 1 - y / H


def main():
    fig = plt.figure(figsize=(W / 100, H / 100), dpi=100)

    for p in PANELS:
        left, top, right, bottom = p["box"]
        ax = fig.add_axes([fx(left), fy(bottom), (right - left) / W, (bottom - top) / H])

        hd = [d for d, _ in p["hist"]]
        hv = [v for _, v in p["hist"]]
        ax.plot(hd, hv, ls="none", marker="+", ms=6, mew=1.0, color=BLUE, alpha=0.8)
        ax.plot(p["day"], p["du"], color=RED, lw=1.8, marker="+", ms=6, mew=1.8)

        ax.set_xlim(0, 365)
        ax.set_ylim(0, p["ymax"])
        ax.xaxis.set_major_locator(MultipleLocator(100))
        ax.xaxis.set_minor_locator(MultipleLocator(10))
        ax.yaxis.set_major_locator(MultipleLocator(50))
        ax.yaxis.set_minor_locator(MultipleLocator(10))

        ax.tick_params(which="both", direction="in", top=True, right=True,
                       color=FRAME, width=0.9, labelsize=14)
        ax.tick_params(axis="x", which="major", length=5.2, pad=11)
        ax.tick_params(axis="x", which="minor", length=2.6)
        ax.tick_params(axis="y", which="major", length=8, pad=4)
        ax.tick_params(axis="y", which="minor", length=4)
        for lab in ax.get_xticklabels() + ax.get_yticklabels():
            lab.set_family(SANS)
        for sp in ax.spines.values():
            sp.set_color(FRAME)
            sp.set_linewidth(0.9)

        # legend written as coloured text
        ax.text(34, p["leg_y"][0], p["years"], color="#1c1ca8", fontsize=13,
                family=SANS, ha="center", va="center")
        ax.text(34, p["leg_y"][1], "2020", color="#b41414", fontsize=13,
                family=SANS, ha="center", va="center")

        cx = (left + right) / 2
        fig.text(fx(cx), fy(p["title_y"]),
                 f"{p['station']} 14 - 22 km Partial Column Ozone (Dobson Units)",
                 fontsize=16.5, family=SANS, ha="center", va="center")
        fig.text(fx(p["ylab_x"]), fy((top + bottom) / 2), "Partial Column Ozone (DU)",
                 fontsize=13.5, family=SANS, rotation=90, ha="center", va="center")
        fig.text(fx(cx), fy(p["xlab_y"]), "Day of Year", fontsize=13.5, family=SANS,
                 ha="center", va="center")
        fig.text(fx(p["tag_xy"][0]), fy(p["tag_xy"][1]), p["tag"], fontsize=19,
                 family=SERIF, ha="center", va="center")

    fig.savefig("out.png", dpi=100)
    plt.close(fig)


if __name__ == "__main__":
    main()
